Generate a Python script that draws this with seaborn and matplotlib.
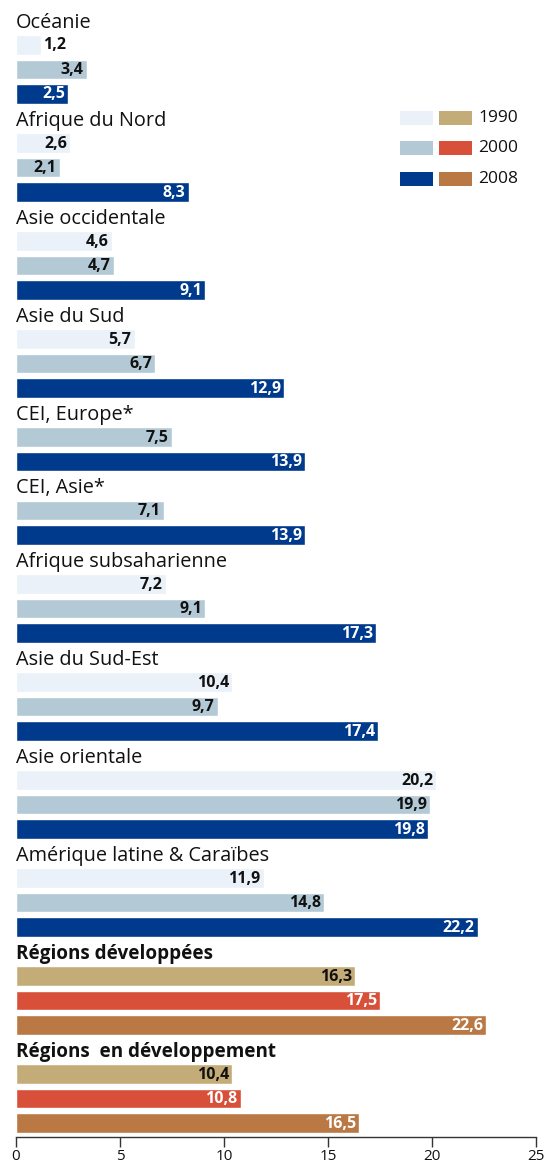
import matplotlib
matplotlib.use("Agg")
import matplotlib.pyplot as plt
from matplotlib.patches import Rectangle
import seaborn as sns
import pandas as pd

regions = ["Océanie", "Afrique du Nord", "Asie occidentale", "Asie du Sud",
           "CEI, Europe*", "CEI, Asie*", "Afrique subsaharienne",
           "Asie du Sud-Est", "Asie orientale", "Amérique latine & Caraïbes",
           "Régions développées", "Régions  en développement"]
v1990 = [1.2, 2.6, 4.6, 5.7, None, None, 7.2, 10.4, 20.2, 11.9, 16.3, 10.4]
v2000 = [3.4, 2.1, 4.7, 6.7, 7.5, 7.1, 9.1, 9.7, 19.9, 14.8, 17.5, 10.8]
v2008 = [2.5, 8.3, 9.1, 12.9, 13.9, 13.9, 17.3, 17.4, 19.8, 22.2, 22.6, 16.5]
aggregate = [False] * 10 + [True, True]
years = ["1990", "2000", "2008"]
xticks = [0, 5, 10, 15, 20, 25]

palette = {
    "r-1990": "#EAF1F8", "r-2000": "#B3CAD6", "r-2008": "#003A8C",
    "a-1990": "#C4AC78", "a-2000": "#D9503A", "a-2008": "#BA7844",
}
text_col = {
    "r-1990": "#111111", "r-2000": "#111111", "r-2008": "white",
    "a-1990": "#111111", "a-2000": "white", "a-2008": "white",
}

rows = []
order = []
labels = []
for i, reg in enumerate(regions):
    s = f"s{len(order):02d}"
    order.append(s)
    labels.append((s, reg, aggregate[i]))
    pre = "a" if aggregate[i] else "r"
    for yr, vals in zip(years, [v1990, v2000, v2008]):
        v = vals[i]
        if v is None:
            continue
        s = f"s{len(order):02d}"
        order.append(s)
        rows.append({"slot": s, "value": v, "key": f"{pre}-{yr}"})
df = pd.DataFrame(rows)

sns.set_style("white")
plt.rcParams["font.family"] = ["Open Sans", "DejaVu Sans"]

fig = plt.figure(figsize=(5.46, 11.65), dpi=100)
W, H = 546, 1165
ax = fig.add_axes([16 / W, (H - 1137) / H, 520 / W, 1137 / H])

sns.barplot(data=df, x="value", y="slot", hue="key", order=order,
            hue_order=list(palette.keys()), palette=palette, dodge=False,
            orient="h", saturation=1, width=0.8, legend=False, ax=ax)

ax.set_xlim(0, 25)
ax.set_ylim(45.57, -0.837)
ax.set_yticks([])
ax.set_ylabel("")
ax.set_xlabel("")
ax.set_xticks(xticks)
ax.set_xticklabels([str(t) for t in xticks])
ax.tick_params(axis="x", direction="out", length=7, width=1, color="#333333",
               labelsize=11, pad=2, bottom=True, labelcolor="#111111")
for side in ["top", "right", "left"]:
    ax.spines[side].set_visible(False)
ax.spines["bottom"].set_color("#333333")
ax.spines["bottom"].set_linewidth(1)

pos = {s: k for k, s in enumerate(order)}
for s, reg, agg in labels:
    ax.text(0, pos[s] + 0.1, reg, ha="left", va="center",
            fontsize=13.6 if agg else 14.3,
            fontweight="bold" if agg else "normal", color="#111111")

for _, r in df.iterrows():
    y = pos[r["slot"]]
    txt = f"{r['value']:.1f}".replace(".", ",")
    if r["value"] < 2:
        ax.text(r["value"] + 0.1, y + 0.02, txt, ha="left", va="center",
                fontsize=11.5, fontweight="bold", color="#111111")
    else:
        ax.text(r["value"] - 0.15, y + 0.02, txt, ha="right", va="center",
                fontsize=11.5, fontweight="bold", color=text_col[r["key"]])

# legend
leg_rows = [118, 148, 179]
for yr, yc in zip(years, leg_rows):
    for x0, key in [(400, f"r-{yr}"), (439, f"a-{yr}")]:
        fig.patches.append(Rectangle((x0 / W, (H - yc - 7) / H), 33 / W, 14 / H,
                                     transform=fig.transFigure,
                                     facecolor=palette[key], edgecolor="none"))
    fig.text(478 / W, (H - yc) / H, yr, ha="left", va="center", fontsize=12.5,
             color="#111111")

fig.savefig("out.png", dpi=100)
